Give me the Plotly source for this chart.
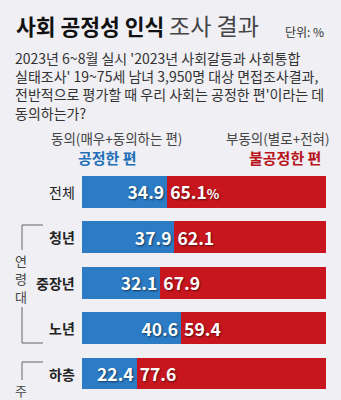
import plotly.graph_objects as go

categories = ["전체", "청년", "중장년", "노년", "하층"]
agree = [34.9, 37.9, 32.1, 40.6, 22.4]
disagree = [65.1, 62.1, 67.9, 59.4, 77.6]
bold_label = [False, True, True, True, True]

W, H = 341, 400
BLUE = "#2b7bc5"
RED = "#c8161e"
BG = "#efeff4"
FONT = "Noto Sans CJK KR"

def px(x):
    return x / W

def py(y):
    return 1 - y / H

agree_text = [f"{v:.1f}" for v in agree]
disagree_text = [f"{v:.1f}" for v in disagree]
disagree_text[0] = disagree_text[0] + "<span style='font-size:13px'>%</span>"

shadow = "1px 1px 2px rgba(0,0,0,0.55)"

fig = go.Figure()
fig.add_trace(go.Bar(
    y=categories, x=agree, orientation="h", marker=dict(color=BLUE, line=dict(width=0)),
    text=agree_text, textposition="inside", insidetextanchor="end",
    textfont=dict(family=FONT, size=17.5, color="white", weight="bold", shadow=shadow),
    hoverinfo="skip", cliponaxis=False,
))
fig.add_trace(go.Bar(
    y=categories, x=disagree, orientation="h", marker=dict(color=RED, line=dict(width=0)),
    text=disagree_text, textposition="inside", insidetextanchor="start",
    textfont=dict(family=FONT, size=17.5, color="white", weight="bold", shadow=shadow),
    hoverinfo="skip", cliponaxis=False,
))

ann = []
# Title
ann.append(dict(
    x=px(14), y=py(25), xref="paper", yref="paper", xanchor="left", yanchor="middle",
    text="<b>사회 공정성 인식</b> <span style='color:#444;font-size:23px'>조사 결과</span>",
    showarrow=False, font=dict(family=FONT, size=21.5, color="#111"),
))
ann.append(dict(
    x=px(326), y=py(32), xref="paper", yref="paper", xanchor="right", yanchor="middle",
    text="단위: %", showarrow=False, font=dict(family=FONT, size=12, color="#333"),
))
sub = [
    "2023년 6~8월 실시 '2023년 사회갈등과 사회통합",
    "실태조사' 19~75세 남녀 3,950명 대상 면접조사결과,",
    "전반적으로 평가할 때 우리 사회는 공정한 편'이라는 데",
    "동의하는가?",
]
ann.append(dict(
    x=px(14), y=py(85), xref="paper", yref="paper", xanchor="left", yanchor="middle",
    align="left", borderpad=0,
    text="<br>".join(sub), showarrow=False, font=dict(family=FONT, size=14, color="#333"),
))
ann.append(dict(
    x=px(117), y=py(138), xref="paper", yref="paper", xanchor="center", yanchor="middle",
    text="동의(매우+동의하는 편)", showarrow=False, font=dict(family=FONT, size=13.5, color="#444"),
))
ann.append(dict(
    x=px(278), y=py(138), xref="paper", yref="paper", xanchor="center", yanchor="middle",
    text="부동의(별로+전혀)", showarrow=False, font=dict(family=FONT, size=13.5, color="#444"),
))
ann.append(dict(
    x=px(107), y=py(157), xref="paper", yref="paper", xanchor="center", yanchor="middle",
    text="<b>공정한 편</b>", showarrow=False, font=dict(family=FONT, size=15, color="#1f6fb8"),
))
ann.append(dict(
    x=px(323), y=py(157), xref="paper", yref="paper", xanchor="right", yanchor="middle",
    text="<b>불공정한 편</b>", showarrow=False, font=dict(family=FONT, size=15, color="#b8141b"),
))
for c, b in zip(categories, bold_label):
    ann.append(dict(
        x=px(77), y=c, xref="paper", yref="y", xanchor="right", yanchor="middle",
        text=f"<b>{c}</b>" if b else c, showarrow=False,
        font=dict(family=FONT, size=14, color="#222"),
    ))
for ch, y in zip(["연", "령", "대"], [260, 278, 296]):
    ann.append(dict(
        x=px(21), y=py(y), xref="paper", yref="paper", xanchor="center", yanchor="middle",
        text=ch, showarrow=False, font=dict(family=FONT, size=13, color="#444"),
    ))
ann.append(dict(
    x=px(21), y=py(390), xref="paper", yref="paper", xanchor="center", yanchor="middle",
    text="주", showarrow=False, font=dict(family=FONT, size=13, color="#444"),
))

line_style = dict(color="#666", width=1)
shapes = []
def seg(x0, y0, x1, y1):
    shapes.append(dict(type="line", xref="paper", yref="paper",
                       x0=px(x0), y0=py(y0), x1=px(x1), y1=py(y1), line=line_style))
seg(22, 225, 43, 225)
seg(22, 225, 22, 250)
seg(22, 307, 22, 343)
seg(22, 343, 43, 343)
seg(22, 362, 43, 362)
seg(22, 362, 22, 380)

fig.update_layout(
    width=W, height=H, autosize=False,
    margin=dict(l=0, r=0, t=0, b=0),
    paper_bgcolor=BG, plot_bgcolor=BG,
    barmode="stack", bargap=0.30, showlegend=False,
    xaxis=dict(range=[0, 100], domain=[px(82), px(326)], visible=False, fixedrange=True),
    yaxis=dict(type="category", categoryorder="array", categoryarray=categories,
               range=[4.5, -0.5], domain=[1 - 396.2 / H, 1 - 169.3 / H], visible=False, fixedrange=True),
    annotations=ann, shapes=shapes,
    uniformtext=dict(minsize=17, mode="show"),
)

fig.write_html("out.html", config={"displayModeBar": False})
